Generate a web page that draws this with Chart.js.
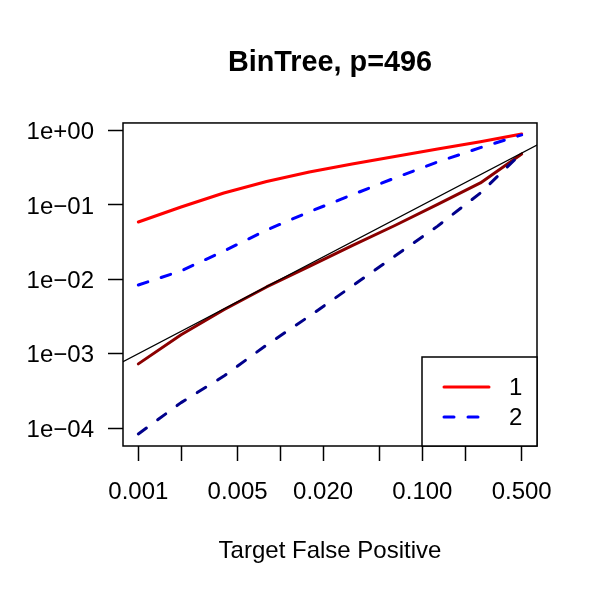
<!DOCTYPE html>
<html>
<head>
<meta charset="utf-8">
<title>BinTree, p=496</title>
<script src="https://cdn.jsdelivr.net/npm/chart.js@4.4.1/dist/chart.umd.min.js"></script>
<style>
  html, body { margin: 0; padding: 0; background: #fff; }
  #wrap { width: 600px; height: 600px; position: relative; }
</style>
</head>
<body>
<div id="wrap"><canvas id="chart"></canvas></div>
<script>
// ─── Data ────────────────────────────────────────────────────────────────────
const TARGET_FP = [0.001, 0.002, 0.004, 0.008, 0.016, 0.032, 0.064, 0.128, 0.256, 0.5];

// series "1" (solid) and "2" (dashed), upper and lower curves
const S1_UPPER = [0.059, 0.094, 0.145, 0.207, 0.278, 0.356, 0.45, 0.565, 0.71, 0.90];
const S2_UPPER = [0.0084, 0.013, 0.024, 0.046, 0.081, 0.137, 0.231, 0.379, 0.59, 0.875];
const S1_LOWER = [0.00073, 0.0018, 0.0039, 0.0079, 0.0149, 0.0284, 0.053, 0.102, 0.198, 0.486];
const S2_LOWER = [0.0000834, 0.00022, 0.0005, 0.00131, 0.0032, 0.0081, 0.0206, 0.052, 0.145, 0.50];

// y = x reference line, across the whole x range
const REF_X = [0.00078, 0.641];
const REF_Y = [0.00078, 0.641];

const X_TICKS = [0.001, 0.002, 0.005, 0.01, 0.02, 0.05, 0.1, 0.2, 0.5];
const X_TICK_LABELS = ['0.001', '', '0.005', '', '0.020', '', '0.100', '', '0.500'];
const Y_TICKS = [1e-4, 1e-3, 1e-2, 1e-1, 1];
const Y_TICK_LABELS = ['1e\u221204', '1e\u221203', '1e\u221202', '1e\u221201', '1e+00'];

const LEGEND_LABELS = ['1', '2'];

const X_RANGE = [0.00078, 0.641];
const Y_RANGE = [5.74e-5, 1.268];

// ─── Helpers ──────────────────────────────────────────────────────────────────
const FONT = "'Liberation Sans', Arial, Helvetica, sans-serif";
const pts = (xs, ys) => xs.map((x, i) => ({ x, y: ys[i] }));

function lineSet(label, data, color, dashed, order, width = 3) {
  return {
    label,
    data,
    borderColor: color,
    borderWidth: width,
    borderDash: dashed ? [10, 14] : [],
    borderCapStyle: 'round',
    borderJoinStyle: 'round',
    pointRadius: 0,
    tension: 0,
    fill: false,
    order,
  };
}

// box around the plot region
const plotBox = {
  id: 'plotBox',
  afterDatasetsDraw(chart) {
    const { ctx, chartArea: a } = chart;
    ctx.save();
    ctx.strokeStyle = '#000';
    ctx.lineWidth = 1.5;
    ctx.strokeRect(a.left, a.top, a.right - a.left, a.bottom - a.top);
    ctx.restore();
  }
};

// R style legend in the bottom right corner
const cornerLegend = {
  id: 'cornerLegend',
  afterDraw(chart) {
    const { ctx, chartArea: a } = chart;
    const w = 115, h = 89;
    const x0 = a.right - w, y0 = a.bottom - h;
    ctx.save();
    ctx.fillStyle = '#fff';
    ctx.fillRect(x0, y0, w, h);
    ctx.strokeStyle = '#000';
    ctx.lineWidth = 1.5;
    ctx.strokeRect(x0, y0, w, h);

    LEGEND_LABELS.forEach((lab, i) => {
      const ds = chart.data.datasets[i];
      const y = y0 + 30 + i * 30;
      ctx.strokeStyle = ds.borderColor;
      ctx.lineWidth = ds.borderWidth;
      ctx.lineCap = 'round';
      ctx.setLineDash(ds.borderDash);
      ctx.beginPath();
      ctx.moveTo(x0 + 22, y);
      ctx.lineTo(x0 + 67, y);
      ctx.stroke();
      ctx.setLineDash([]);
      ctx.fillStyle = '#000';
      ctx.font = `24px ${FONT}`;
      ctx.textBaseline = 'middle';
      ctx.textAlign = 'left';
      ctx.fillText(lab, x0 + 87, y + 1);
    });
    ctx.restore();
  }
};

function axisOptions(range, ticks, labels, tickOpts, extra) {
  return {
    type: 'logarithmic',
    min: range[0],
    max: range[1],
    bounds: 'data',
    afterBuildTicks: s => { s.ticks = ticks.map(v => ({ value: v })); },
    ticks: {
      autoSkip: false,
      maxRotation: 0,
      minRotation: 0,
      color: '#000',
      font: { family: FONT, size: 24 },
      callback: (v, i) => labels[i],
      ...tickOpts,
    },
    grid: {
      drawOnChartArea: false,
      drawTicks: true,
      color: '#000',
      tickColor: '#000',
      tickWidth: 1.5,
      tickLength: 15,
    },
    border: { display: false },
    ...extra,
  };
}

// ─── Chart ────────────────────────────────────────────────────────────────────
new Chart(document.getElementById('chart'), {
  type: 'line',
  data: {
    datasets: [
      lineSet('1', pts(TARGET_FP, S1_UPPER), '#ff0000', false, 5),
      lineSet('2', pts(TARGET_FP, S2_UPPER), '#0000ff', true, 4),
      lineSet('1 lower', pts(TARGET_FP, S1_LOWER), '#8b0000', false, 3),
      lineSet('2 lower', pts(TARGET_FP, S2_LOWER), '#00008b', true, 2),
      lineSet('y = x', pts(REF_X, REF_Y), '#000', false, 1, 1.3),
    ]
  },
  options: {
    responsive: true,
    maintainAspectRatio: false,
    animation: false,
    events: [],
    layout: { padding: { left: 0, top: 0, right: 63, bottom: 0 } },
    plugins: {
      legend: { display: false },
      tooltip: { enabled: false },
      title: {
        display: true,
        text: 'BinTree, p=496',
        fullSize: false,
        color: '#000',
        font: { family: FONT, size: 28.8, weight: 'bold' },
        padding: { top: 46, bottom: 42.4 },
      }
    },
    scales: {
      x: axisOptions(X_RANGE, X_TICKS, X_TICK_LABELS, { padding: 17 }, {
        position: 'bottom',
        afterFit: s => { s.height = 154; },
        title: {
          display: true,
          text: 'Target False Positive',
          color: '#000',
          font: { family: FONT, size: 24 },
          padding: { top: 0, bottom: 34 },
        },
      }),
      y: axisOptions(Y_RANGE, Y_TICKS, Y_TICK_LABELS, { padding: 14, labelOffset: 2 }, {
        position: 'left',
        afterFit: s => { s.width = 123; },
      }),
    }
  },
  plugins: [plotBox, cornerLegend],
});
</script>
</body>
</html>
